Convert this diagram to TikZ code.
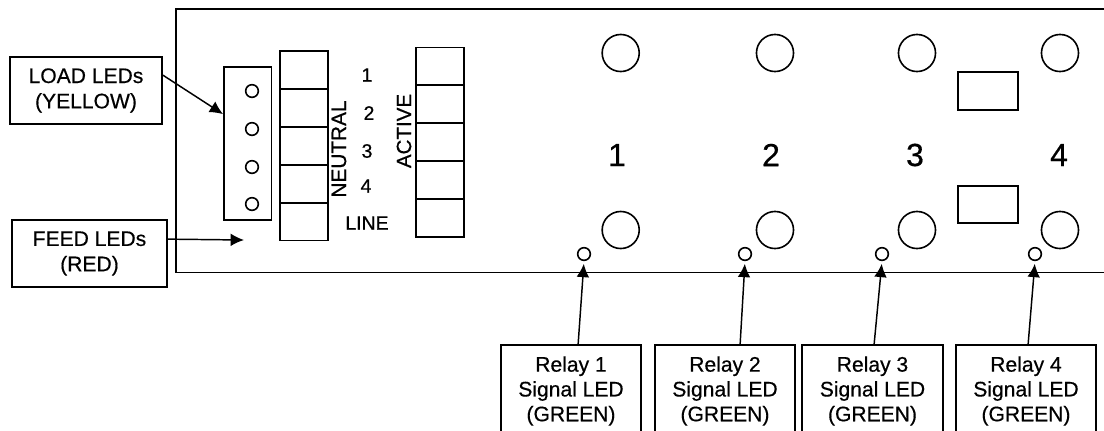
\documentclass[tikz,border=0pt]{standalone}
\usepackage{fontspec}
\setmainfont{Liberation Sans}[FakeBold=0.5]
\usetikzlibrary{positioning,calc,arrows.meta}
\tikzset{
	label box/.style={draw=black,line width=1.3pt,align=center,inner sep=0pt,font=\fontsize{15.8pt}{19pt}\selectfont},
	relay box/.style={label box,font=\fontsize{15.8pt}{18.6pt}\selectfont,minimum width=105pt,minimum height=69pt},
	cell/.style={draw=black,line width=1.3pt,minimum width=36pt,minimum height=28.4pt,inner sep=0pt},
	big hole/.style={draw=black,circle,line width=1.2pt,minimum size=27.8pt,inner sep=0pt},
	small led/.style={draw=black,circle,line width=1.2pt,minimum size=9.5pt,inner sep=0pt},
	pointer/.style={-{Latex[length=10pt,width=9.5pt]},black,line width=1.1pt},
	small num/.style={font=\fontsize{14.6pt}{16pt}\selectfont,inner sep=0pt},
	big num/.style={font=\fontsize{24pt}{26pt}\selectfont,inner sep=0pt}
}
\begin{document}
\begin{tikzpicture}[x=0.75pt,y=0.75pt]
			\useasboundingbox (0,0) rectangle (1104,-430);
			\clip (0,0) rectangle (1104,-430);
			% front panel, runs off to the right
			\draw [black,line width=1.3pt] (176,-9) rectangle (1120,-272.5);
			% label boxes
			\node [label box,minimum width=114pt,minimum height=50.25pt] (loadbox) at (86,-90.5) {LOAD LEDs\\(YELLOW)};
			\node [label box,minimum width=116.25pt,minimum height=50.25pt] (feedbox) at (89.5,-253.5) {FEED LEDs\\(RED)};
			% load leds
			\node [draw=black,line width=1.3pt,minimum width=35.6pt,minimum height=114.75pt,inner sep=0pt] (ledstrip) at (247.7,-143.5) {};
			\node [small led] (loada) at (252,-91) {};
			\node [small led] (loadb) at (252,-129) {};
			\node [small led] (loadc) at (252,-167) {};
			\node [small led] (loadd) at (252,-204) {};
			% neutral column
			\node [cell] (neutrala) at (304,-70.2) {};
			\node [cell] (neutralb) at (304,-108.2) {};
			\node [cell] (neutralc) at (304,-146) {};
			\node [cell] (neutrald) at (304,-184) {};
			\node [cell] (neutrale) at (304,-221.5) {};
			% active column
			\node [cell] (activea) at (440,-66.5) {};
			\node [cell] (activeb) at (440,-104) {};
			\node [cell] (activec) at (440,-142) {};
			\node [cell] (actived) at (440,-180) {};
			\node [cell] (activee) at (440,-218) {};
			% column labels
			\node [small num] (numa) at (367,-75) {1};
			\node [small num] (numb) at (369,-113) {2};
			\node [small num] (numc) at (367,-151) {3};
			\node [small num] (numd) at (366,-186) {4};
			\node [small num] (linetext) at (367,-223) {LINE};
			\node [small num,font=\fontsize{15.6pt}{17pt}\selectfont,rotate=90] (neutraltext) at (339,-149) {NEUTRAL};
			\node [small num,font=\fontsize{15.4pt}{17pt}\selectfont,rotate=90] (activetext) at (404,-131) {ACTIVE};
			% relay holes
			\node [big hole] (holea) at (620.7,-53) {};
			\node [big hole] (holeb) at (775,-53) {};
			\node [big hole] (holec) at (917,-53) {};
			\node [big hole] (holed) at (1060,-53) {};
			\node [big hole] (holee) at (620.7,-230) {};
			\node [big hole] (holef) at (775,-230) {};
			\node [big hole] (holeg) at (917,-230) {};
			\node [big hole] (holeh) at (1060,-230) {};
			\node [big num] (relaynuma) at (617,-155) {1};
			\node [big num] (relaynumb) at (771,-155) {2};
			\node [big num] (relaynumc) at (915,-155) {3};
			\node [big num] (relaynumd) at (1059,-155) {4};
			% the two windows
			\node [draw=black,line width=1.2pt,minimum width=45pt,minimum height=28.5pt,inner sep=0pt] (windowa) at (988,-91) {};
			\node [draw=black,line width=1.2pt,minimum width=45pt,minimum height=28pt,inner sep=0pt] (windowb) at (988,-204.5) {};
			% signal leds
			\node [small led] (leda) at (584,-254) {};
			\node [small led] (ledb) at (745,-254) {};
			\node [small led] (ledc) at (882,-254) {};
			\node [small led] (ledd) at (1035,-254) {};
			% relay boxes
			\node [relay box] (relaya) at (571,-391) {Relay 1\\Signal LED\\(GREEN)};
			\node [relay box] (relayb) at (725,-391) {Relay 2\\Signal LED\\(GREEN)};
			\node [relay box,minimum width=105.75pt] (relayc) at (872.5,-391) {Relay 3\\Signal LED\\(GREEN)};
			\node [relay box] (relayd) at (1026,-391) {Relay 4\\Signal LED\\(GREEN)};
			% pointers
			\coordinate (feedtip) at (244,-240);
			\draw [pointer] ($(loadbox.north east)+(0,-19)$) -- ($(ledstrip.north west)+(0,-48)$);
			\draw [pointer] ($(feedbox.north east)+(0,-20)$) -- (feedtip);
			\draw [pointer,shorten >=2pt] ($(relaya.north west)+(78,0)$) -- (leda.south);
			\draw [pointer,shorten >=2pt] ($(relayb.north west)+(86,0)$) -- (ledb.south);
			\draw [pointer,shorten >=2pt] ($(relayc.north west)+(73,0)$) -- (ledc.south);
			\draw [pointer,shorten >=2pt] ($(relayd.north west)+(73,0)$) -- (ledd.south);
\end{tikzpicture}
\end{document}
